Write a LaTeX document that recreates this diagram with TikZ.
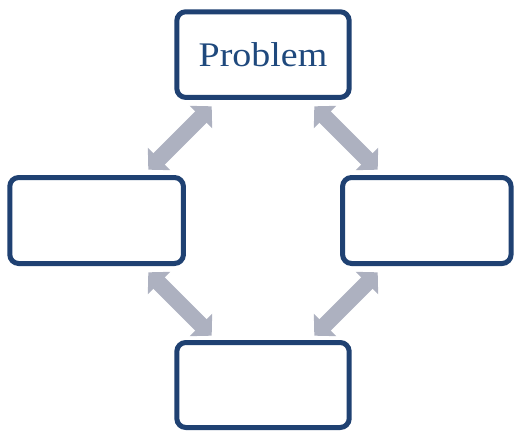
\documentclass[tikz,border=0pt]{standalone}
\usepackage{fontspec}
\usepackage{graphicx}
\setmainfont{Liberation Serif}
\usetikzlibrary{arrows.meta}
\definecolor{boxblue}{HTML}{1F4172}
\definecolor{textblue}{HTML}{1F497D}
\definecolor{arrowgray}{HTML}{ADB1C0}
\tikzset{
  box/.style={draw=boxblue, line width=5pt, rounded corners=9pt, fill=white, inner sep=0pt},
  dblarrow/.style={draw=arrowgray, line width=16pt,
    {Triangle[width=31pt,length=15.3pt]}-{Triangle[width=31pt,length=15.3pt]}}
}
\begin{document}
\begin{tikzpicture}[x=1pt,y=-1pt]
\useasboundingbox (0,0) rectangle (514,431);
\node[box, minimum width=172.4pt, minimum height=85.7pt] (top) at (263,54.6)
  {\textcolor{textblue}{\scalebox{1.1}[1]{\fontsize{34.5pt}{40pt}\selectfont Problem}}};
\node[box, minimum width=173.7pt, minimum height=86pt] (left) at (96.6,220.5) {};
\node[box, minimum width=168.5pt, minimum height=86pt] (right) at (426.8,220.5) {};
\node[box, minimum width=172.4pt, minimum height=85pt] (bottom) at (263,385) {};
\coordinate (tl1) at (211.7,106.3);
\coordinate (tl2) at (148.3,169.7);
\coordinate (tr1) at (314.3,106.3);
\coordinate (tr2) at (377.7,169.7);
\coordinate (bl1) at (148.3,272.3);
\coordinate (bl2) at (211.7,335.7);
\coordinate (br1) at (377.7,272.3);
\coordinate (br2) at (314.3,335.7);
\draw[dblarrow] (tl1) -- (tl2);
\draw[dblarrow] (tr1) -- (tr2);
\draw[dblarrow] (bl1) -- (bl2);
\draw[dblarrow] (br1) -- (br2);
\end{tikzpicture}
\end{document}
